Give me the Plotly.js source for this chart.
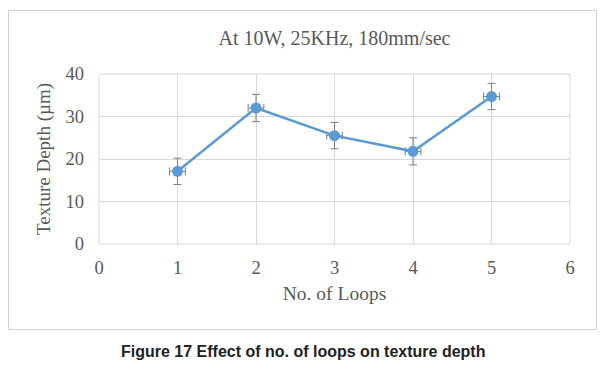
<!DOCTYPE html>
<html>
<head>
<meta charset="utf-8">
<script src="https://cdn.plot.ly/plotly-3.0.1.min.js"></script>
<style>
  html, body { margin: 0; padding: 0; background: #ffffff; }
  #chart { width: 604px; height: 373px; }
</style>
</head>
<body>
<div id="chart"></div>
<script>
// Data
var loops = [1, 2, 3, 4, 5];
var textureDepth = [17.1, 32.0, 25.5, 21.8, 34.7];
var depthError = [3.1, 3.2, 3.1, 3.2, 3.1];
var loopError = [0.1, 0.1, 0.1, 0.1, 0.1];
var xTicks = [0, 1, 2, 3, 4, 5, 6];
var yTicks = [0, 10, 20, 30, 40];

var titleText = 'At 10W, 25KHz, 180mm/sec';
var xTitle = 'No. of Loops';
var yTitle = 'Texture Depth (\u00b5m)';
var caption = 'Figure 17 Effect of no. of loops on texture depth';

var serif = '"Liberation Serif", "DejaVu Serif", serif';
var gray = '#595959';

var trace = {
  x: loops,
  y: textureDepth,
  type: 'scatter',
  mode: 'lines+markers',
  line: { color: '#5b9bd5', width: 2.5 },
  marker: { color: '#5b9bd5', size: 11 },
  error_y: { type: 'data', array: depthError, visible: true, color: '#7f7f7f', thickness: 1, width: 4 },
  error_x: { type: 'data', array: loopError, visible: true, color: '#7f7f7f', thickness: 1, width: 4 },
  hoverinfo: 'x+y'
};

var W = 604, H = 373;
var L = 99, R = 34, T = 74, B = 129;
var pw = W - L - R, ph = H - T - B;
function px2paperX(p) { return (p - L) / pw; }
function px2paperY(p) { return (H - B - p) / ph; }

var layout = {
  width: W,
  height: H,
  margin: { l: L, r: R, t: T, b: B, pad: 0 },
  paper_bgcolor: '#ffffff',
  plot_bgcolor: '#ffffff',
  showlegend: false,
  title: {
    text: titleText,
    font: { family: serif, size: 20, color: gray },
    xref: 'paper', x: 0.5, xanchor: 'center',
    yref: 'container', y: 1 - 38 / H, yanchor: 'middle'
  },
  xaxis: {
    range: [0, 6],
    tickvals: xTicks,
    ticktext: xTicks.map(String),
    showgrid: true,
    gridcolor: '#d9d9d9',
    gridwidth: 1,
    zeroline: false,
    showline: false,
    ticks: '',
    ticklabelstandoff: 10,
    tickfont: { family: serif, size: 18.5, color: gray },
    title: { text: xTitle, font: { family: serif, size: 19.5, color: gray }, standoff: 9 }
  },
  yaxis: {
    range: [0, 40],
    tickvals: yTicks,
    ticktext: yTicks.map(String),
    showgrid: true,
    gridcolor: '#d9d9d9',
    gridwidth: 1,
    zeroline: false,
    showline: false,
    ticks: '',
    ticklabelstandoff: 14,
    tickfont: { family: serif, size: 18.5, color: gray },
    title: { text: yTitle, font: { family: serif, size: 19, color: gray }, standoff: 9 }
  },
  shapes: [
    {
      type: 'rect', xref: 'paper', yref: 'paper',
      x0: px2paperX(8.5), x1: px2paperX(596.5),
      y0: px2paperY(329.5), y1: px2paperY(10.5),
      line: { color: '#d0d0d0', width: 1 },
      fillcolor: 'rgba(0,0,0,0)',
      layer: 'below'
    },
    {
      type: 'rect', xref: 'paper', yref: 'paper',
      x0: 0, x1: 1, y0: 0, y1: 1,
      line: { color: '#d9d9d9', width: 1 },
      fillcolor: 'rgba(0,0,0,0)',
      layer: 'below'
    }
  ],
  annotations: [
    {
      text: '<b>' + caption + '</b>',
      xref: 'paper', yref: 'paper',
      x: px2paperX(303), y: px2paperY(351),
      xanchor: 'center', yanchor: 'middle',
      showarrow: false,
      font: { family: 'Arial, "Liberation Sans", sans-serif', size: 16, color: '#222222' }
    }
  ]
};

Plotly.newPlot('chart', [trace], layout, { displayModeBar: false, staticPlot: true });
</script>
</body>
</html>
